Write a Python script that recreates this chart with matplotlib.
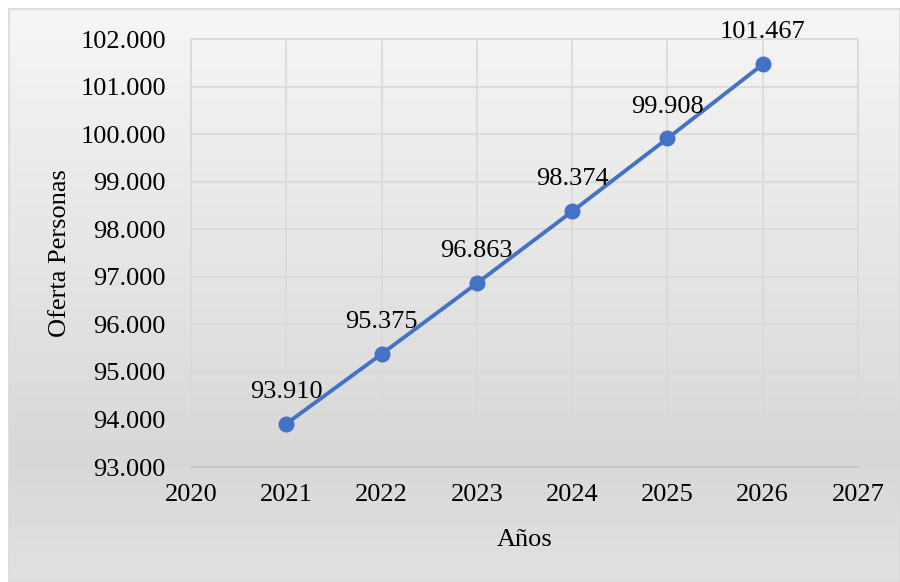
import numpy as np
import matplotlib
matplotlib.use("Agg")
import matplotlib.pyplot as plt
from matplotlib.colors import LinearSegmentedColormap

years = [2021, 2022, 2023, 2024, 2025, 2026]
oferta = [93910, 95375, 96863, 98374, 99908, 101467]
labels = ["93.910", "95.375", "96.863", "98.374", "99.908", "101.467"]
x_ticks = [2020, 2021, 2022, 2023, 2024, 2025, 2026, 2027]
y_ticks = [93000, 94000, 95000, 96000, 97000, 98000, 99000, 100000, 101000, 102000]
y_tick_labels = ["93.000", "94.000", "95.000", "96.000", "97.000", "98.000",
                 "99.000", "100.000", "101.000", "102.000"]

plt.rcParams["font.family"] = ["Liberation Serif", "DejaVu Serif"]
FS = 19

W, H = 900, 582
fig = plt.figure(figsize=(W / 100, H / 100), dpi=100)
fig.patch.set_facecolor("white")

# chart area background with a soft vertical gradient
bg = fig.add_axes([9 / W, 0, 1 - 9 / W, 1 - 9 / H], zorder=0)
cmap = LinearSegmentedColormap.from_list(
    "bg", [(0.0, "#f6f6f6"), (0.78, "#d8d8d8"), (1.0, "#e1e1e1")])
grad = np.linspace(0, 1, 256).reshape(-1, 1)
bg.imshow(grad, aspect="auto", cmap=cmap, extent=[0, 1, 0, 1], origin="upper")
bg.set_xlim(0, 1)
bg.set_ylim(0, 1)
bg.set_xticks([])
bg.set_yticks([])
for s in bg.spines.values():
    s.set_color("#d9d9d9")
    s.set_linewidth(1.2)

ax = fig.add_axes([191 / W, 1 - 467 / H, (858 - 191) / W, (467 - 39) / H], zorder=1)
ax.set_facecolor("none")
ax.plot(years, oferta, color="#4472C4", lw=2.8, marker="o", ms=10.5,
        markerfacecolor="#4472C4", markeredgecolor="#4472C4", zorder=3)
for xv, yv, lab in zip(years, oferta, labels):
    ax.annotate(lab, (xv, yv), xytext=(0, 23), textcoords="offset points",
                ha="center", va="center", fontsize=FS, color="black", zorder=4)

ax.set_xlim(2020, 2027)
ax.set_ylim(93000, 102000)
ax.set_xticks(x_ticks)
ax.set_xticklabels([str(v) for v in x_ticks])
ax.set_yticks(y_ticks)
ax.set_yticklabels(y_tick_labels)
ax.tick_params(length=0, labelsize=FS, colors="black")
ax.tick_params(axis="y", pad=18)
ax.tick_params(axis="x", pad=12)
ax.grid(True, color="#d9d9d9", lw=1.2, zorder=0)
for name, s in ax.spines.items():
    s.set_color("#d9d9d9")
    s.set_linewidth(1.2)
ax.spines["bottom"].set_color("#c3c3c3")

fig.text(60 / W, 1 - 253 / H, "Oferta Personas", rotation=90, fontsize=FS,
         ha="center", va="center")
fig.text(525 / W, 1 - 540 / H, "Años", fontsize=FS, ha="center", va="center")

fig.savefig("out.png", dpi=100)
